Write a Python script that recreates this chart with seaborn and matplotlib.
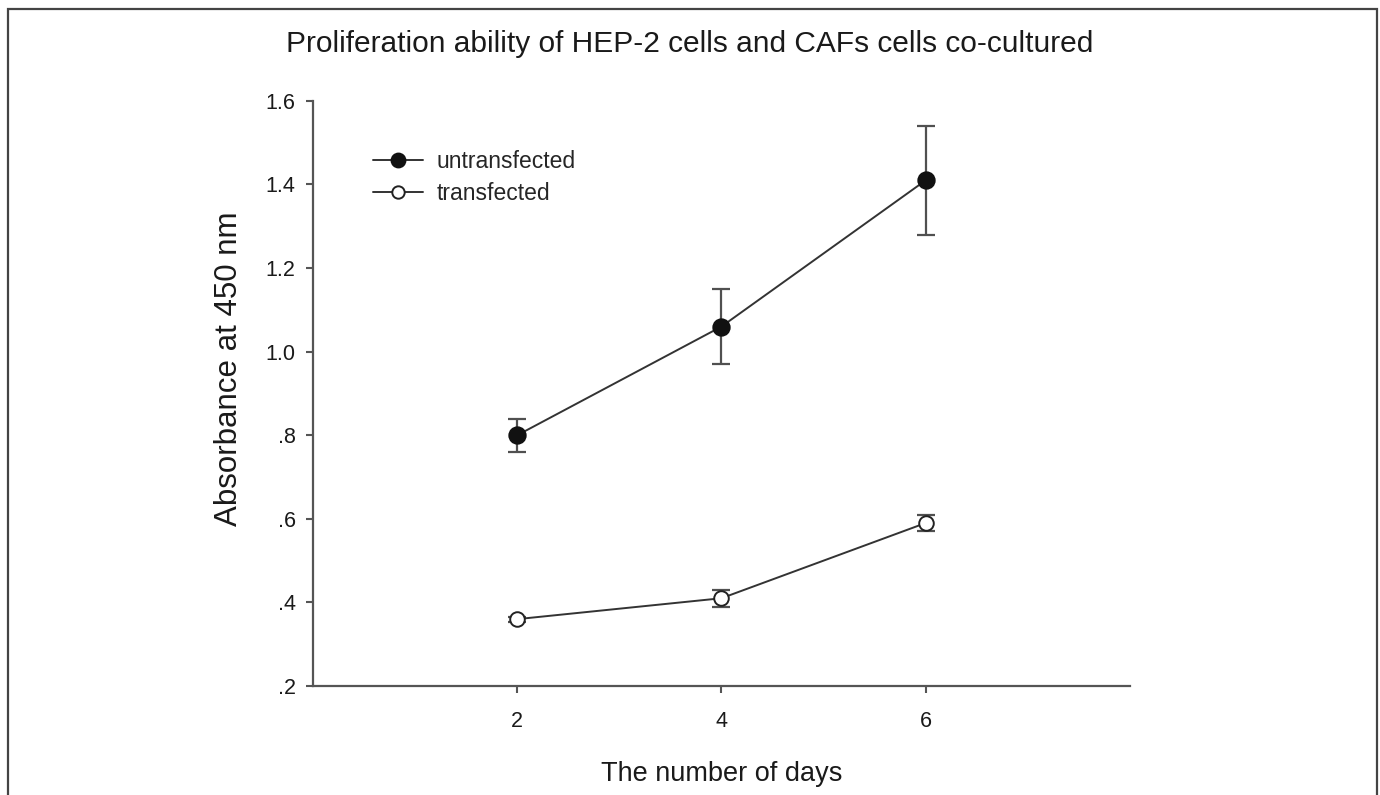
import pandas as pd
import seaborn as sns
import matplotlib.pyplot as plt
from matplotlib.patches import Rectangle

# data
days = [2, 4, 6]
untransfected = [0.80, 1.06, 1.41]
untransfected_err = [0.04, 0.09, 0.13]
transfected = [0.36, 0.41, 0.59]
transfected_err = [0.006, 0.02, 0.02]
y_ticks = [0.2, 0.4, 0.6, 0.8, 1.0, 1.2, 1.4, 1.6]
y_tick_labels = ['.2', '.4', '.6', '.8', '1.0', '1.2', '1.4', '1.6']

sns.set_style('ticks')
plt.rcParams['font.family'] = ['Liberation Sans', 'DejaVu Sans']

fig = plt.figure(figsize=(13.8, 7.95), dpi=100)
ax = fig.add_axes([0.2268, 0.1371, 0.592, 0.736])

df_un = pd.DataFrame({'day': days, 'absorbance': untransfected})
df_tr = pd.DataFrame({'day': days, 'absorbance': transfected})

# error bars first so markers sit on top
ax.errorbar(days, untransfected, yerr=untransfected_err, fmt='none',
            ecolor='#505050', elinewidth=1.6, capsize=6.5, capthick=1.6, zorder=2)
ax.errorbar(days, transfected, yerr=transfected_err, fmt='none',
            ecolor='#505050', elinewidth=1.6, capsize=6.5, capthick=1.6, zorder=2)

sns.lineplot(data=df_un, x='day', y='absorbance', ax=ax, color='#333333',
             linewidth=1.4, marker='o', markersize=12, markerfacecolor='#111111',
             markeredgecolor='#111111', markeredgewidth=1.2, label='untransfected', zorder=3)
sns.lineplot(data=df_tr, x='day', y='absorbance', ax=ax, color='#333333',
             linewidth=1.4, marker='o', markersize=10.5, markerfacecolor='white',
             markeredgecolor='#222222', markeredgewidth=1.4, label='transfected', zorder=3)

ax.set_xlim(0, 8)
ax.set_ylim(0.2, 1.6)
ax.set_xticks(days)
ax.set_yticks(y_ticks)
ax.set_yticklabels(y_tick_labels)

sns.despine(ax=ax)
for side in ['left', 'bottom']:
    ax.spines[side].set_color('#555555')
    ax.spines[side].set_linewidth(1.6)
ax.tick_params(axis='both', direction='out', length=5, width=1.5, color='#555555',
               labelsize=15.5, labelcolor='#1a1a1a')
ax.tick_params(axis='x', pad=13)
ax.tick_params(axis='y', pad=7.5)

ax.set_xlabel('The number of days', fontsize=19.5, labelpad=21, color='#1a1a1a')
ax.set_ylabel('Absorbance at 450 nm', fontsize=22.5, labelpad=15, color='#1a1a1a')
ax.yaxis.set_label_coords(-0.084, 0.542)

leg = ax.legend(loc='upper left', bbox_to_anchor=(0.048, 0.952), frameon=False,
                fontsize=16.5, handlelength=2.2, handletextpad=0.6,
                labelspacing=0.42, markerscale=0.85)

fig.text(0.5, 1 - 44 / 795, 'Proliferation ability of HEP-2 cells and CAFs cells co-cultured',
         ha='center', va='center', fontsize=21.5, color='#1a1a1a')

# outer frame of the figure (bottom edge is cut off in the reference)
frame = Rectangle((8 / 1380, -0.1), (1377 - 8) / 1380, 1 - 9 / 795 + 0.1,
                  transform=fig.transFigure, fill=False, edgecolor='#444444', linewidth=1.6)
fig.add_artist(frame)

fig.savefig('out.png', dpi=100)
